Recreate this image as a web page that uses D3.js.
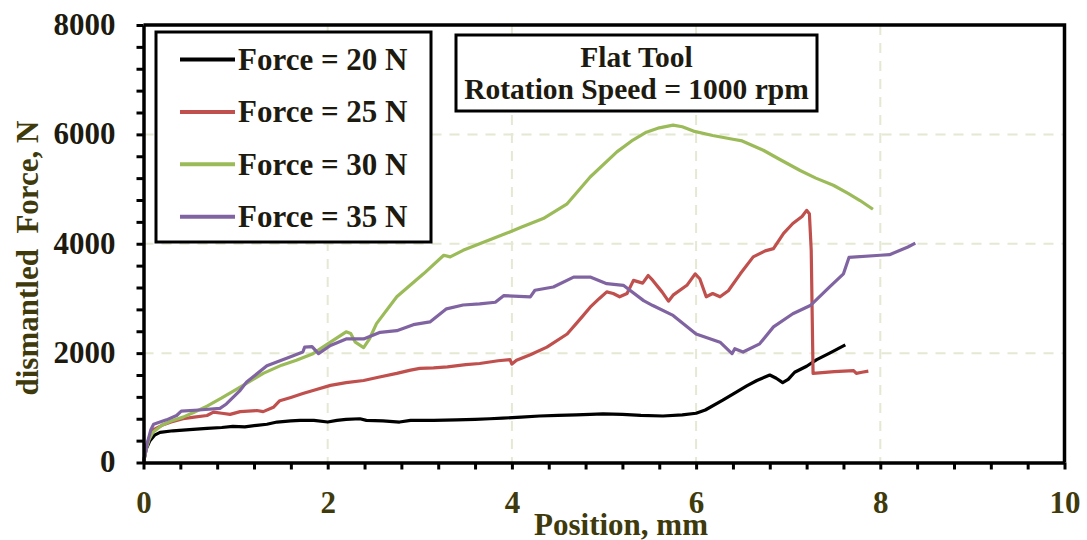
<!DOCTYPE html>
<html>
<head>
<meta charset="utf-8">
<script src="https://cdn.jsdelivr.net/npm/d3@7"></script>
<style>
  body { margin: 0; background: #fff; }
  text { font-family: "Liberation Serif", "Times New Roman", serif; font-weight: bold; }
</style>
</head>
<body>
<div id="chart"></div>
<script>
"use strict";

// position (mm), force (N)
const force20 = [[0,0],[0.03,250],[0.07,400],[0.12,500],[0.18,550],[0.32,580],[0.5,600],[0.69,625],[0.85,640],[0.97,660],[1.1,650],[1.23,680],[1.34,700],[1.45,740],[1.6,760],[1.7,770],[1.85,770],[2.0,740],[2.1,770],[2.2,790],[2.35,800],[2.42,770],[2.6,760],[2.78,740],[2.9,770],[3.15,770],[3.4,780],[3.6,790],[3.76,800],[3.9,810],[4.1,830],[4.3,850],[4.5,860],[4.7,870],[4.85,880],[4.99,890],[5.2,880],[5.4,860],[5.64,850],[5.85,870],[6.0,900],[6.1,960],[6.29,1140],[6.45,1300],[6.55,1400],[6.66,1500],[6.8,1600],[6.87,1540],[6.94,1460],[7.0,1520],[7.07,1650],[7.2,1760],[7.31,1880],[7.45,2000],[7.62,2150]];

const force25 = [[0,0],[0.03,300],[0.07,480],[0.11,600],[0.2,680],[0.3,740],[0.43,800],[0.55,830],[0.69,860],[0.76,920],[0.85,900],[0.94,880],[1.05,930],[1.23,950],[1.3,930],[1.41,1010],[1.48,1130],[1.6,1190],[1.73,1260],[1.85,1320],[2.03,1410],[2.2,1460],[2.39,1500],[2.55,1560],[2.75,1630],[2.9,1690],[3.0,1720],[3.15,1730],[3.3,1750],[3.5,1790],[3.65,1810],[3.85,1860],[3.98,1880],[4.0,1800],[4.05,1870],[4.2,1970],[4.38,2110],[4.6,2350],[4.75,2640],[4.85,2840],[4.95,3000],[5.03,3120],[5.1,3090],[5.17,3030],[5.25,3090],[5.32,3330],[5.42,3280],[5.48,3420],[5.53,3330],[5.63,3120],[5.7,2950],[5.75,3060],[5.9,3240],[5.99,3450],[6.04,3360],[6.11,3030],[6.18,3090],[6.26,3030],[6.35,3140],[6.48,3450],[6.62,3760],[6.75,3870],[6.84,3910],[6.95,4190],[7.05,4370],[7.15,4500],[7.2,4610],[7.23,4550],[7.25,3880],[7.27,1630],[7.5,1660],[7.71,1680],[7.74,1630],[7.8,1650],[7.87,1670]];

const force30 = [[0,0],[0.03,250],[0.06,420],[0.1,550],[0.2,680],[0.3,760],[0.43,830],[0.55,920],[0.69,1030],[0.85,1180],[1.05,1380],[1.3,1630],[1.5,1780],[1.66,1870],[1.84,1990],[2.03,2200],[2.2,2390],[2.25,2360],[2.3,2200],[2.39,2100],[2.45,2250],[2.53,2540],[2.75,3030],[3.04,3450],[3.26,3790],[3.33,3760],[3.47,3880],[3.65,4000],[3.94,4190],[4.1,4300],[4.34,4460],[4.6,4730],[4.85,5220],[5.14,5680],[5.3,5880],[5.46,6040],[5.6,6120],[5.75,6170],[5.85,6140],[5.97,6060],[6.18,5980],[6.4,5910],[6.5,5880],[6.73,5710],[6.9,5550],[7.13,5340],[7.3,5200],[7.49,5070],[7.65,4920],[7.78,4790],[7.92,4630]];

const force35 = [[0,0],[0.04,350],[0.08,600],[0.11,700],[0.25,780],[0.36,860],[0.41,940],[0.6,960],[0.83,990],[0.9,1070],[1.05,1320],[1.12,1470],[1.34,1770],[1.59,1930],[1.73,2020],[1.75,2110],[1.83,2120],[1.9,1990],[2.03,2140],[2.2,2260],[2.39,2260],[2.57,2380],[2.75,2410],[2.93,2520],[3.11,2570],[3.29,2810],[3.47,2880],[3.65,2900],[3.82,2930],[3.91,3050],[4.2,3030],[4.25,3150],[4.45,3210],[4.67,3390],[4.85,3390],[5.03,3270],[5.21,3240],[5.43,2960],[5.53,2870],[5.75,2690],[6.0,2350],[6.26,2200],[6.39,1990],[6.42,2080],[6.51,2020],[6.69,2170],[6.84,2480],[7.05,2720],[7.24,2870],[7.45,3210],[7.6,3450],[7.66,3750],[8.0,3790],[8.1,3800],[8.3,3940],[8.38,4010]];

const seriesNames = ["Force = 20 N", "Force = 25 N", "Force = 30 N", "Force = 35 N"];
const seriesData = [force20, force25, force30, force35];
const seriesColors = ["#000000", "#c0504d", "#9bbb59", "#8064a2"];

const xTicks = d3.range(0, 26).map(i => +(i * 0.4).toFixed(1));
const yTicks = d3.range(0, 8001, 400);
const xGrid = [2, 4, 6, 8];
const yGrid = [2000, 4000, 6000];
const titleLines = ["Flat Tool", "Rotation Speed = 1000 rpm"];

const W = 1087, H = 540;
const m = {left: 143.5, right: 1064.5, top: 25, bottom: 462.5};
const ink = "#1d1a10", olive = "#3e3a0c";

const svg = d3.select("#chart").append("svg")
  .attr("width", W).attr("height", H);

const x = d3.scaleLinear().domain([0, 10]).range([m.left, m.right]);
const y = d3.scaleLinear().domain([0, 8000]).range([m.bottom, m.top]);

// gridlines
svg.append("g").selectAll("line").data(xGrid).join("line")
  .attr("x1", d => x(d)).attr("x2", d => x(d))
  .attr("y1", m.top).attr("y2", m.bottom)
  .attr("stroke", "#e5e8d2").attr("stroke-width", 2).attr("stroke-dasharray", "10,8");
svg.append("g").selectAll("line").data(yGrid).join("line")
  .attr("x1", m.left).attr("x2", m.right)
  .attr("y1", d => y(d)).attr("y2", d => y(d))
  .attr("stroke", "#e5e8d2").attr("stroke-width", 2).attr("stroke-dasharray", "10,8");

// series
const line = d3.line().x(d => x(d[0])).y(d => y(d[1]));
svg.append("g").selectAll("path").data(seriesData).join("path")
  .attr("d", line)
  .attr("fill", "none")
  .attr("stroke", (d, i) => seriesColors[i])
  .attr("stroke-width", 3.2)
  .attr("stroke-linejoin", "round");

// frame top + right
svg.append("path")
  .attr("d", `M${m.left},${m.top}H${m.right}V${m.bottom}`)
  .attr("fill", "none").attr("stroke", "#000").attr("stroke-width", 3.5);

// axes
const xAxis = d3.axisBottom(x).tickValues(xTicks)
  .tickSizeInner(7).tickSizeOuter(0).tickPadding(21)
  .tickFormat(d => (Math.abs(d % 2) < 1e-6) ? d3.format("d")(d) : "");
const gx = svg.append("g").attr("transform", `translate(0,${m.bottom})`).call(xAxis);
gx.select(".domain").attr("stroke-width", 3.5).attr("stroke", "#000");
gx.selectAll(".tick line").attr("stroke-width", 3);
gx.selectAll(".tick text").attr("font-size", 31).attr("fill", olive)
  .style("font-family", "'Liberation Serif', serif").style("font-weight", "bold");

const yAxis = d3.axisLeft(y).tickValues(yTicks)
  .tickSizeInner(7).tickSizeOuter(0).tickPadding(21)
  .tickFormat(d => d % 2000 === 0 ? d : "");
const gy = svg.append("g").attr("transform", `translate(${m.left},0)`).call(yAxis);
gy.select(".domain").attr("stroke-width", 3.5).attr("stroke", "#000");
gy.selectAll(".tick line").attr("stroke-width", 3);
gy.selectAll(".tick text").attr("font-size", 31).attr("fill", ink).attr("dy", "0.3em")
  .style("font-family", "'Liberation Serif', serif").style("font-weight", "bold");

// axis titles
svg.append("text")
  .attr("transform", "translate(38,258) rotate(-90)")
  .attr("text-anchor", "middle")
  .attr("font-size", 31).attr("fill", olive)
  .style("white-space", "pre")
  .text("dismantled  Force, N");

svg.append("text")
  .attr("x", 621).attr("y", 535)
  .attr("text-anchor", "middle")
  .attr("font-size", 31).attr("fill", olive)
  .text("Position, mm");

// legend
const lg = svg.append("g");
lg.append("rect").attr("x", 156).attr("y", 32).attr("width", 275).attr("height", 210)
  .attr("fill", "#fff").attr("stroke", "#000").attr("stroke-width", 3);
const rows = lg.selectAll("g.row").data(seriesNames).join("g")
  .attr("class", "row")
  .attr("transform", (d, i) => `translate(0,${59.5 + i * 52.4})`);
rows.append("line").attr("x1", 180).attr("x2", 235).attr("y1", 0).attr("y2", 0)
  .attr("stroke", (d, i) => seriesColors[i]).attr("stroke-width", 4);
rows.append("text").attr("x", 238).attr("y", 10.5)
  .attr("font-size", 31).attr("fill", ink).text(d => d);

// title box
const tb = svg.append("g");
tb.append("rect").attr("x", 456).attr("y", 35).attr("width", 361).attr("height", 76)
  .attr("fill", "#fff").attr("stroke", "#000").attr("stroke-width", 3);
tb.selectAll("text").data(titleLines).join("text")
  .attr("x", 636.5).attr("y", (d, i) => 67 + i * 31.5)
  .attr("text-anchor", "middle")
  .attr("font-size", 29.5).attr("fill", ink).text(d => d);
</script>
</body>
</html>
